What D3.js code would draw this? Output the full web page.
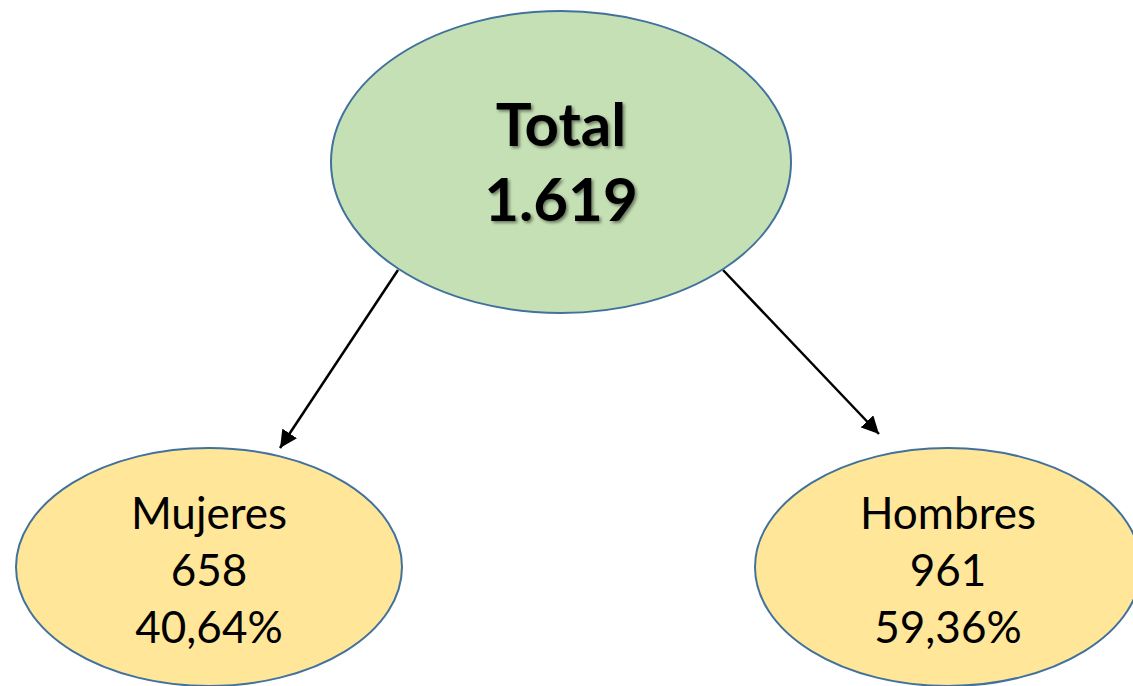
<!DOCTYPE html>
<html>
<head>
<meta charset="utf-8">
<script src="https://cdn.jsdelivr.net/npm/d3@7"></script>
<style>
  body { margin: 0; background: #fff; }
  svg { display: block; }
</style>
</head>
<body>
<svg width="1133" height="686"></svg>
<script>
const totalLabel = 'Total';
const totalValue = 1619;
const groups = ['Mujeres', 'Hombres'];
const counts = [658, 961];
const shares = [40.64, 59.36];

const svg = d3.select('svg'),
  width = +svg.attr('width'),
  height = +svg.attr('height');

const fmtInt = d3.formatLocale({decimal: ',', thousands: '.', grouping: [3], currency: ['', '']}).format(',d');
const fmtPct = v => v.toFixed(2).replace('.', ',') + '%';

const font = 'Lato, "Open Sans", sans-serif';

// node positions
const root = {x: 561, y: 162, rx: 230, ry: 151};
const x = d3.scalePoint().domain(groups).range([209, 948]);
const childY = 567, childRx = 193, childRy = 119;

const defs = svg.append('defs');
defs.append('marker')
  .attr('id', 'arrow')
  .attr('viewBox', '0 0 10 10')
  .attr('refX', 10).attr('refY', 5)
  .attr('markerWidth', 7).attr('markerHeight', 7)
  .attr('orient', 'auto')
  .append('path')
  .attr('d', 'M0,0 L10,5 L0,10 z')
  .attr('fill', '#000');

const shadow = defs.append('filter').attr('id', 'shadow')
  .attr('x', '-20%').attr('y', '-20%').attr('width', '140%').attr('height', '140%');
shadow.append('feDropShadow')
  .attr('dx', 2).attr('dy', 2).attr('stdDeviation', 1.5)
  .attr('flood-color', '#000').attr('flood-opacity', 0.45);

// arrows
const arrowEnds = [[398, 270, 280, 448], [723, 270, 879, 434]];
svg.selectAll('.link')
  .data(groups)
  .enter()
  .append('line')
  .attr('class', 'link')
  .attr('x1', (d, i) => arrowEnds[i][0])
  .attr('y1', (d, i) => arrowEnds[i][1])
  .attr('x2', (d, i) => arrowEnds[i][2])
  .attr('y2', (d, i) => arrowEnds[i][3])
  .attr('stroke', '#000')
  .attr('stroke-width', 2.5)
  .attr('marker-end', 'url(#arrow)');

// total node
svg.append('ellipse')
  .attr('cx', root.x).attr('cy', root.y)
  .attr('rx', root.rx).attr('ry', root.ry)
  .attr('fill', '#C5E0B4')
  .attr('stroke', '#41719C')
  .attr('stroke-width', 2);

svg.append('text')
  .attr('text-anchor', 'middle')
  .attr('font-family', font)
  .attr('font-weight', 'bold')
  .attr('font-size', 60)
  .attr('filter', 'url(#shadow)')
  .selectAll('tspan')
  .data([totalLabel, fmtInt(totalValue)])
  .enter()
  .append('tspan')
  .attr('x', root.x)
  .attr('y', (d, i) => 146 + i * 75)
  .text(d => d);

// child nodes
const node = svg.selectAll('.node')
  .data(groups)
  .enter()
  .append('g')
  .attr('class', 'node')
  .attr('transform', d => `translate(${x(d)}, ${childY})`);

node.append('ellipse')
  .attr('rx', childRx).attr('ry', childRy)
  .attr('fill', '#FFE699')
  .attr('stroke', '#41719C')
  .attr('stroke-width', 2);

node.append('text')
  .attr('text-anchor', 'middle')
  .attr('font-family', font)
  .attr('font-size', 44)
  .attr('fill', '#000')
  .selectAll('tspan')
  .data((d, i) => [d, String(counts[i]), fmtPct(shares[i])])
  .enter()
  .append('tspan')
  .attr('x', 0)
  .attr('y', (d, i) => -38 + i * 57)
  .text(d => d);
</script>
</body>
</html>
